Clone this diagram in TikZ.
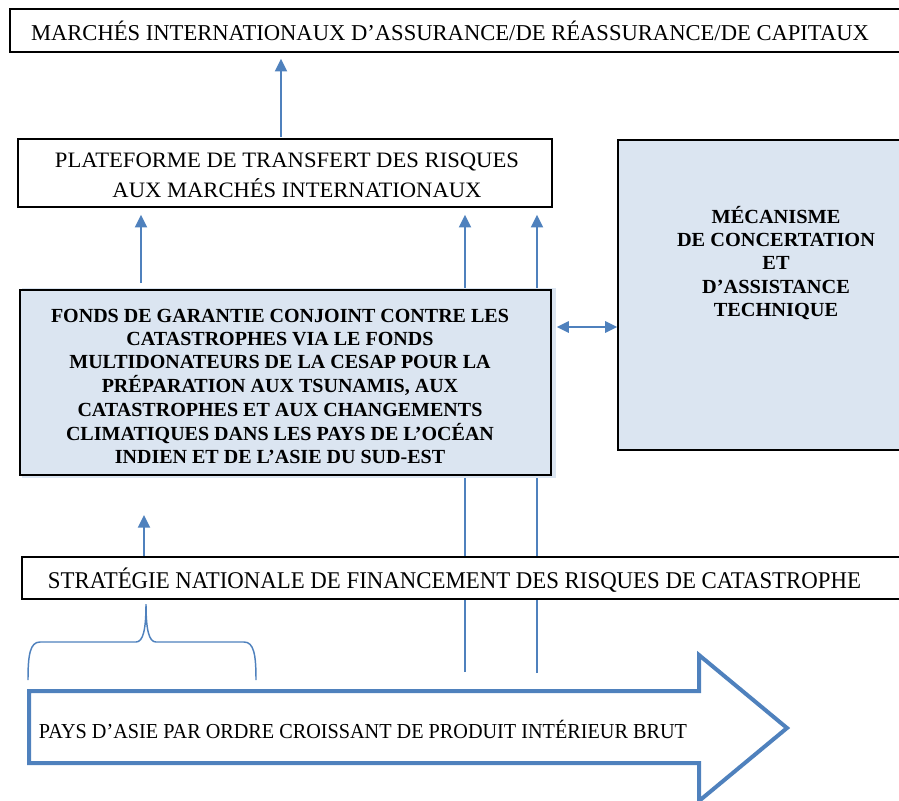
\documentclass[tikz,border=0pt]{standalone}
\usepackage{fontspec}
\setmainfont{Liberation Serif}
\usepackage{graphicx}
\usetikzlibrary{arrows.meta,fit}
\definecolor{ablue}{HTML}{4F81BD}
\definecolor{lblue}{HTML}{DBE5F1}
\newdimen\pxu \pxu=0.75pt
\newcommand\hfit[2]{\resizebox{#1\pxu}{\height}{#2}}
\begin{document}
\begin{tikzpicture}[x=0.75pt,y=-0.75pt,
  box/.style={draw=black, line width=1.2pt, fill=white, inner sep=0pt},
  bluebox/.style={box, fill=lblue},
  conn/.style={draw=ablue, line width=1.7pt, -{Triangle[width=9pt,length=9.5pt]}},
  dconn/.style={draw=ablue, line width=1.3pt, {Triangle[width=8.5pt,length=9pt]}-{Triangle[width=8.5pt,length=9pt]}},
  plainline/.style={draw=ablue, line width=1.7pt},
  txt/.style={anchor=base, inner sep=0pt},
  bold/.style={txt, font=\fontsize{15}{17.5}\selectfont\bfseries}]
\useasboundingbox (0,0) rectangle (899,800);

% coordinates
\coordinate (xa) at (281,0);
\coordinate (xb) at (141,0);
\coordinate (xc) at (144,0);
\coordinate (l1) at (465,672);
\coordinate (l2) at (537,673);
\coordinate (s1) at (144,515);
\coordinate (yd) at (0,327);

% top boxes
\node[box, fit={(10,9)(905,52)}] (mkt) {};
\node[box, fit={(18,139)(552,207)}] (plat) {};

% long lines (behind the boxes below)
\draw[conn, shorten >=5.25pt] (l1) -- (plat.south -| l1);
\draw[conn, shorten >=5.25pt] (l2) -- (plat.south -| l2);

% blue boxes and strategy box
\fill[lblue] (22,288) rectangle (556,478);
\node[bluebox, fit={(20,290)(551,475)}] (fonds) {};
\node[bluebox, fit={(618,140)(905,450)}] (meca) {};
\node[box, fit={(22,557)(905,599)}] (strat) {};

% connectors
\draw[conn, shorten <=1pt, shorten >=4.5pt] (plat.north -| xa) -- (mkt.south -| xa);
\draw[conn, shorten <=4.5pt, shorten >=5.25pt] (fonds.north -| xb) -- (plat.south -| xb);
\draw[conn] (strat.north -| xc) -- (s1);
\draw[dconn, shorten <=3.75pt] (fonds.east |- yd) -- (meca.west |- yd);

% brace
\draw[ablue, line width=1.1pt] (28,680) .. controls (28,655) and (30,642) .. (40,642) -- (136,642)
  .. controls (143,642) and (146,630) .. (146,604)
  .. controls (146,630) and (149,642) .. (156,642) -- (244,642)
  .. controls (254,642) and (256,655) .. (256,680);

% big arrow
\draw[ablue, line width=3pt, line join=miter] (29,691) -- (699,691) -- (699,655) -- (787,728) -- (699,801) -- (699,763) -- (29,763) -- cycle;

% texts
\node[txt, font=\fontsize{17}{20}\selectfont] (mktT) at (450,40)
  {\hfit{838}{MARCHÉS INTERNATIONAUX D’ASSURANCE/DE RÉASSURANCE/DE CAPITAUX}};
\node[txt, font=\fontsize{16.5}{20}\selectfont] (platT1) at (287,167)
  {\hfit{464}{PLATEFORME DE TRANSFERT DES RISQUES}};
\node[txt, font=\fontsize{16.5}{20}\selectfont] (platT2) at (297,197)
  {\hfit{369}{AUX MARCHÉS INTERNATIONAUX}};
\node[bold] (fondsT) at (280,322)
  {\hfit{458}{\begin{tabular}[t]{@{}c@{}}FONDS DE GARANTIE CONJOINT CONTRE LES\\
   CATASTROPHES VIA LE FONDS\\
   MULTIDONATEURS DE LA CESAP POUR LA\\
   PRÉPARATION AUX TSUNAMIS, AUX\\
   CATASTROPHES ET AUX CHANGEMENTS\\
   CLIMATIQUES DANS LES PAYS DE L’OCÉAN\\
   INDIEN ET DE L’ASIE DU SUD-EST\end{tabular}}};
\node[bold] (mecaT) at (776,223)
  {\hfit{198}{\begin{tabular}[t]{@{}c@{}}MÉCANISME\\
   DE CONCERTATION\\
   ET\\
   D’ASSISTANCE\\
   TECHNIQUE\end{tabular}}};
\node[txt, font=\fontsize{18}{20}\selectfont] (stratT) at (454.5,588)
  {\hfit{813}{STRATÉGIE NATIONALE DE FINANCEMENT DES RISQUES DE CATASTROPHE}};
\node[txt, font=\fontsize{16}{20}\selectfont] (paysT) at (363,738)
  {\hfit{648}{PAYS D’ASIE PAR ORDRE CROISSANT DE PRODUIT INTÉRIEUR BRUT}};
\end{tikzpicture}
\end{document}
